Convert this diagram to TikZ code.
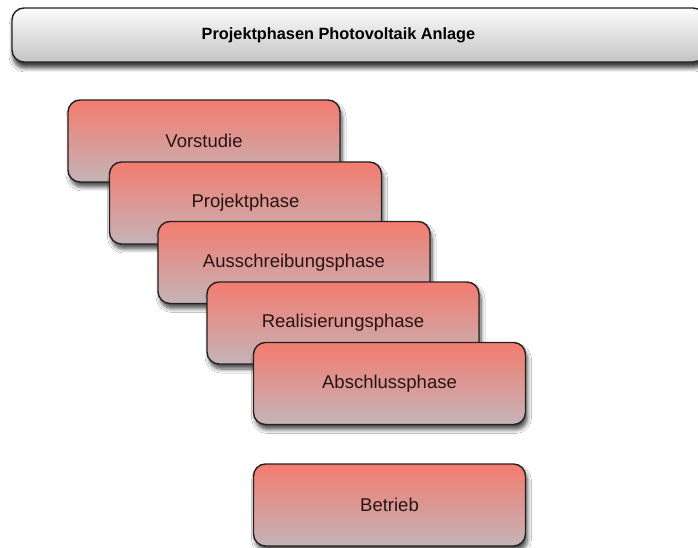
\documentclass[tikz,border=0pt]{standalone}
\usepackage{fontspec}
\setmainfont{Liberation Sans}
\usetikzlibrary{shadows.blur}
\definecolor{phasetop}{RGB}{243,124,111}
\definecolor{phasebot}{RGB}{196,180,184}
\definecolor{titletop}{RGB}{252,252,252}
\definecolor{titlebot}{RGB}{196,196,196}
\definecolor{edge}{RGB}{40,32,32}
\definecolor{txt}{RGB}{40,20,20}
\tikzset{
  phasebox/.style={draw=edge, line width=1.4pt, rounded corners=12pt,
    minimum width=272pt, minimum height=82pt, inner sep=0pt,
    top color=phasetop, bottom color=phasebot, text=txt,
    font=\fontsize{18.5}{22}\selectfont,
    blur shadow={shadow xshift=2pt, shadow yshift=-5pt, shadow blur steps=6, shadow opacity=70, shadow blur radius=4pt}},
  titlebox/.style={draw=edge, line width=1.4pt, rounded corners=12pt,
    minimum width=693pt, minimum height=54pt, inner sep=0pt,
    top color=titletop, bottom color=titlebot, text=black,
    blur shadow={shadow xshift=1pt, shadow yshift=-6pt, shadow blur steps=6, shadow opacity=75, shadow blur radius=4pt}},
  titletextstyle/.style={text=black, font=\fontsize{16.3}{20}\selectfont\bfseries}
}
\begin{document}
\begin{tikzpicture}[x=1pt,y=1pt]
\useasboundingbox (0,0) rectangle (698,547);
\clip (0,0) rectangle (698,547);
\fill[white] (0,0) rectangle (698,547);
\node[titlebox] (title) at (358.5,512) {};
\node[titletextstyle] (titletext) at (338.5,512) {Projektphasen Photovoltaik Anlage};
\node[phasebox] (vorstudie) at (204,406) {Vorstudie};
\node[phasebox] (projekt) at (245.5,344) {Projektphase};
\node[phasebox] (ausschreibung) at (294,284.5) {Ausschreibungsphase};
\node[phasebox] (realisierung) at (343,224) {Realisierungsphase};
\node[phasebox] (abschluss) at (389.5,163.5) {Abschlussphase};
\node[phasebox] (betrieb) at (389.5,42) {Betrieb};
\end{tikzpicture}
\end{document}
